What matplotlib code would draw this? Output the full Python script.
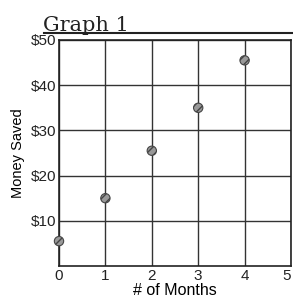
import matplotlib.pyplot as plt
from matplotlib.lines import Line2D

# Data
months = [0, 1, 2, 3, 4]
saved = [5.5, 15, 25.5, 35, 45.5]
x_ticks = [0, 1, 2, 3, 4, 5]
y_ticks = [10, 20, 30, 40, 50]
y_labels = ['$10', '$20', '$30', '$40', '$50']

fig = plt.figure(figsize=(2.93, 3.03), dpi=100)
ax = fig.add_axes([59 / 293, 1 - 266 / 303, 232 / 293, 226 / 303])

ax.set_xlim(0, 5)
ax.set_ylim(0, 50)
ax.set_xticks(x_ticks)
ax.set_yticks(y_ticks)
ax.set_yticklabels(y_labels)
ax.tick_params(length=0, pad=2, labelsize=11, colors='#222222')
for lab in ax.get_xticklabels() + ax.get_yticklabels():
    lab.set_family('Liberation Sans')
ax.get_xticklabels()[-1].set_ha('right')
ax.grid(True, color='#333333', linewidth=1.0)
for s in ax.spines.values():
    s.set_color('#222222')
    s.set_linewidth(1.2)

ax.scatter(months, saved, s=45, facecolor='#999999', edgecolor='#444444',
           hatch='////', linewidth=0.8, zorder=3, clip_on=False)

ax.set_xlabel('# of Months', fontsize=11.5, family='Liberation Sans', labelpad=0)
ax.set_ylabel('Money Saved', fontsize=10.5, family='Liberation Sans', labelpad=4)

# title with underline across the top
fig.text(43 / 293, 1 - 31 / 303, 'Graph 1', fontsize=15, family='DejaVu Serif',
         color='#222222', va='baseline')
fig.add_artist(Line2D([44 / 293, 1.0], [1 - 33 / 303, 1 - 33 / 303],
                      color='#222222', linewidth=1.5))

fig.savefig('out.png', dpi=100)
